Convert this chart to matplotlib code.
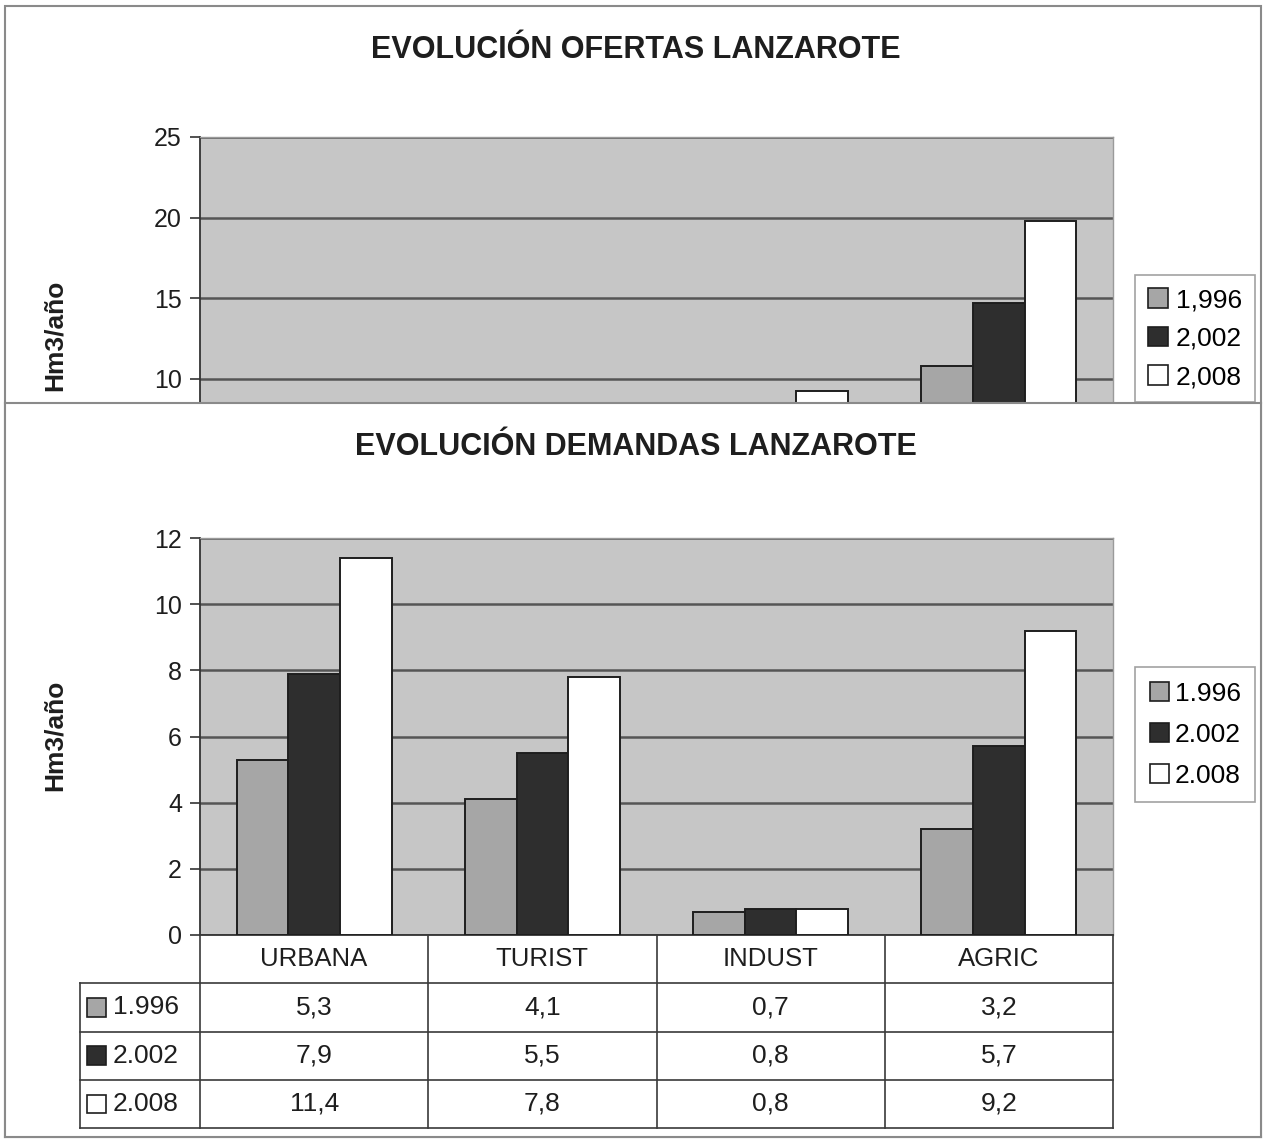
import numpy as np
import matplotlib
matplotlib.use("Agg")
import matplotlib.pyplot as plt
from matplotlib.patches import Rectangle

plt.rcParams['font.family'] = ['Liberation Sans', 'DejaVu Sans']

# ---------------- data ----------------
categories = ['URBANA', 'TURIST', 'INDUST', 'AGRIC']
years_top = ['1,996', '2,002', '2,008']
years_bot = ['1.996', '2.002', '2.008']

# ofertas: only the part above ~8.5 is visible in the source, hidden bars are NaN
ofertas_1996 = [np.nan, np.nan, np.nan, 10.8]
ofertas_2002 = [np.nan, np.nan, np.nan, 14.7]
ofertas_2008 = [np.nan, np.nan, 9.2, 19.8]

demandas_1996 = [5.3, 4.1, 0.7, 3.2]
demandas_2002 = [7.9, 5.5, 0.8, 5.7]
demandas_2008 = [11.4, 7.8, 0.8, 9.2]

# ---------------- style ----------------
BG = '#c6c6c6'
GRID = '#555555'
COLORS = ['#a6a6a6', '#2e2e2e', '#ffffff']
EDGE = '#1e1e1e'
TXT = '#1e1e1e'

W, H = 1265, 1141
fig = plt.figure(figsize=(W / 100, H / 100), dpi=100)


def box(x0, y0, x1, y1):
    return [x0 / W, 1 - y1 / H, (x1 - x0) / W, (y1 - y0) / H]


def style_axes(ax, ymin, ymax, ticks):
    ax.set_facecolor(BG)
    ax.set_xlim(-0.5, 3.5)
    ax.set_ylim(ymin, ymax)
    ax.set_yticks(ticks)
    ax.set_xticks([])
    ax.yaxis.grid(True, color=GRID, lw=1.8)
    ax.set_axisbelow(True)
    for s in ['top', 'right']:
        ax.spines[s].set_color('#9a9a9a')
        ax.spines[s].set_linewidth(1.0)
    ax.spines['left'].set_color('#333333')
    ax.spines['bottom'].set_color('#333333')
    ax.spines['left'].set_linewidth(1.3)
    ax.spines['bottom'].set_linewidth(1.3)
    ax.tick_params(axis='y', direction='out', length=7, width=1.2, color='#333333',
                   labelsize=18, labelcolor=TXT, pad=6)


def draw_bars(ax, series):
    x = np.arange(len(categories))
    bw = 0.226
    for i, vals in enumerate(series):
        ax.bar(x + (i - 1) * bw, vals, width=bw, color=COLORS[i],
               edgecolor=EDGE, linewidth=1.4, zorder=3)


def legend_handles():
    return [Rectangle((0, 0), 1, 1, fc=c, ec=EDGE, lw=1.2) for c in COLORS]


# ---------------- frame ----------------
frame = fig.add_axes([0, 0, 1, 1])
frame.set_xlim(0, W)
frame.set_ylim(H, 0)
frame.axis('off')
frame.add_patch(Rectangle((5, 6), 1256, 1131, fill=False, ec='#8a8a8a', lw=1.5))

# ---------------- top chart (ofertas) ----------------
ax1 = fig.add_axes(box(200, 137, 1113, 403))
style_axes(ax1, 8.48, 25, [10, 15, 20, 25])
draw_bars(ax1, [ofertas_1996, ofertas_2002, ofertas_2008])
fig.text(636 / W, 1 - 50 / H, 'EVOLUCIÓN OFERTAS LANZAROTE', ha='center', va='center',
         fontsize=22, fontweight='bold', color=TXT)
fig.text(55 / W, 1 - 335 / H, 'Hm3/año', rotation=90, ha='center', va='center',
         fontsize=19, fontweight='bold', color=TXT)
leg1 = fig.legend(legend_handles(), years_top, loc='upper left',
                  bbox_to_anchor=(1135 / W, 1 - 275 / H), fontsize=19,
                  frameon=True, fancybox=False, edgecolor='#8a8a8a',
                  handlelength=0.75, handleheight=0.75, handletextpad=0.3,
                  labelspacing=0.55, borderpad=0.5, borderaxespad=0)
leg1.get_frame().set_linewidth(1.2)

# ---------------- bottom panel (covers the lower part of the top chart) ----------------
cover = fig.add_axes(box(5, 403, 1261, 1137))
cover.set_xticks([])
cover.set_yticks([])
cover.set_facecolor('white')
for s in cover.spines.values():
    s.set_color('#8a8a8a')
    s.set_linewidth(1.5)

ax2 = fig.add_axes(box(200, 538, 1113, 935))
style_axes(ax2, 0, 12, [0, 2, 4, 6, 8, 10, 12])
draw_bars(ax2, [demandas_1996, demandas_2002, demandas_2008])
fig.text(636 / W, 1 - 447 / H, 'EVOLUCIÓN DEMANDAS LANZAROTE', ha='center', va='center',
         fontsize=22, fontweight='bold', color=TXT)
fig.text(55 / W, 1 - 735 / H, 'Hm3/año', rotation=90, ha='center', va='center',
         fontsize=19, fontweight='bold', color=TXT)
leg2 = fig.legend(legend_handles(), years_bot, loc='upper left',
                  bbox_to_anchor=(1135 / W, 1 - 667 / H), fontsize=19,
                  frameon=True, fancybox=False, edgecolor='#8a8a8a',
                  handlelength=0.75, handleheight=0.75, handletextpad=0.2,
                  labelspacing=0.65, borderpad=0.55, borderaxespad=0)
leg2.get_frame().set_linewidth(1.2)

# ---------------- data table ----------------
cat_px = 913 / 4
xl = -0.5 - 120 / cat_px
tab = fig.add_axes(box(80, 935, 1113, 1128))
tab.set_xlim(xl, 3.5)
tab.set_ylim(4, 0)
tab.axis('off')
lc = '#3a3a3a'
tab.plot([-0.5, -0.5], [0, 4], color=lc, lw=1.2, clip_on=False)
for xv in [0.5, 1.5, 2.5, 3.5]:
    tab.plot([xv, xv], [0, 4], color=lc, lw=1.2, clip_on=False)
tab.plot([xl, xl], [1, 4], color=lc, lw=1.2, clip_on=False)
for yv in [1, 2, 3, 4]:
    tab.plot([xl, 3.5], [yv, yv], color=lc, lw=1.2, clip_on=False)

for j, c in enumerate(categories):
    tab.text(j, 0.5, c, ha='center', va='center', fontsize=18.5, color=TXT)

rows = [demandas_1996, demandas_2002, demandas_2008]
sq = 19 / cat_px
for i, (lab, vals) in enumerate(zip(years_bot, rows)):
    yc = i + 1.5
    tab.add_patch(Rectangle((xl + 7 / cat_px, yc - 0.19), sq, 0.38,
                            fc=COLORS[i], ec=EDGE, lw=1.2, clip_on=False))
    tab.text(xl + 33 / cat_px, yc, lab, ha='left', va='center', fontsize=19, color=TXT)
    for j, v in enumerate(vals):
        tab.text(j, yc, f'{v:.1f}'.replace('.', ','), ha='center', va='center',
                 fontsize=19, color=TXT)

fig.savefig('out.png', dpi=100)
